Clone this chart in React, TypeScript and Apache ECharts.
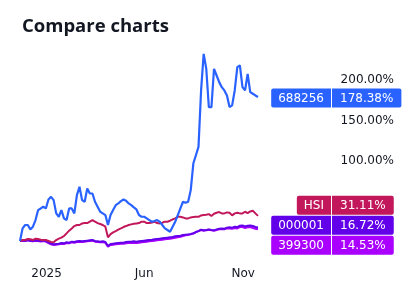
import React, { useEffect, useRef } from "react";
import * as echarts from "echarts";

const seriesNames = ["688256", "HSI", "000001", "399300"];
const seriesColors = ["#2962FF", "#C2185B", "#6200EA", "#AA00FF"];

// percent change since start, sampled every 4 calendar days from 2024-11-21
const s688256 = [
  0, 15.6, 19.8, 19.8, 14.4, 17.7, 25.9, 38.3, 40.3, 42.4,
  40.3, 51.4, 54.7, 50.6, 34.2, 30.0, 38.3, 28.0, 25.9, 40.3,
  40.3, 34.2, 56.8, 67.1, 50.6, 48.6, 65.0, 58.8, 58.8, 48.6,
  42.4, 36.2, 34.2, 32.1, 19.8, 32.1, 38.3, 44.4, 46.5, 49.4,
  51.4, 49.8, 46.5, 44.4, 41.6, 39.1, 32.1, 30.0, 30.0, 28.0,
  25.9, 23.9, 24.7, 25.9, 23.9, 19.8, 15.6, 13.6, 11.5, 17.7,
  23.9, 32.1, 40.3, 48.6, 47.3, 48.6, 63.0, 95.9, 106.2, 116.5,
  186.4, 231.7, 213.2, 165.8, 165.8, 213.2, 204.9, 196.7, 190.5, 186.4,
  180.2, 165.8, 167.9, 186.4, 215.2, 217.3, 190.5, 186.4, 207.0, 184.4,
  182.3, 180.2, 178.38,
];
const sHSI = [
  0, 1.2, 1.2, 2.5, 2.1, 1.2, 2.9, 2.5, 1.6, 1.2,
  1.2, 0, -1.2, -1.6, 1.2, 2.9, 4.1, 6.2, 9.5, 12.8,
  15.6, 18.5, 19.8, 19.8, 21.8, 22.2, 22.2, 23.9, 25.9, 23.9,
  22.2, 21.0, 19.8, 17.7, 4.5, 8.6, 10.7, 12.3, 14.0, 15.6,
  17.3, 18.5, 19.8, 20.6, 21.4, 21.8, 22.2, 23.9, 23.9, 22.2,
  22.2, 23.0, 23.9, 22.2, 21.8, 22.6, 23.9, 23.9, 25.1, 26.7,
  28.0, 30.0, 30.0, 29.2, 28.0, 28.0, 29.2, 29.6, 30.0, 30.0,
  31.7, 32.1, 32.5, 33.3, 30.9, 33.7, 35.0, 35.8, 34.2, 34.2,
  35.4, 35.0, 31.7, 34.2, 35.0, 34.2, 34.2, 36.2, 34.6, 36.6,
  37.4, 34.2, 31.11,
];
const s000001 = [
  0, 0.8, 0.4, 1.2, 0.4, 0, 0.8, 0.4, 0, 0.8,
  0, -1.6, -3.3, -4.1, -3.7, -3.3, -2.5, -2.9, -1.6, -2.1,
  -0.8, -1.2, -0.4, 0, -0.4, 0, 0.4, 0.8, 1.2, 0,
  -0.4, -0.8, -0.4, -1.2, -6.2, -3.7, -3.3, -2.9, -2.5, -2.1,
  -2.1, -1.2, -0.8, -0.8, -0.4, -0.8, -0.4, 0, 0.4, 0.8,
  1.2, 1.6, 2.1, 2.5, 2.9, 3.3, 3.7, 4.1, 4.5, 4.9,
  5.8, 6.2, 6.6, 7.4, 7.8, 8.2, 8.6, 9.5, 11.1, 12.3,
  14.0, 13.2, 13.6, 14.4, 13.6, 13.2, 14.4, 15.2, 15.6, 15.2,
  16.5, 16.9, 16.5, 17.7, 17.3, 18.9, 19.3, 18.1, 18.9, 19.3,
  18.5, 17.3, 16.72,
];
const s399300 = [
  0, 0.4, 0, 0.8, 0, -0.4, 0.4, 0, -0.8, 0,
  -0.8, -2.5, -4.1, -4.9, -4.5, -4.1, -3.3, -3.7, -2.5, -2.9,
  -1.6, -2.1, -1.2, -0.8, -1.2, -0.8, -0.4, 0, 0.4, -0.8,
  -1.2, -1.6, -1.2, -2.1, -7.0, -4.9, -4.5, -4.1, -3.7, -3.3,
  -3.3, -2.9, -2.5, -2.5, -2.1, -2.5, -2.1, -1.6, -1.2, -0.8,
  -0.4, 0, 0.4, 0.8, 1.2, 1.6, 2.1, 2.5, 2.9, 3.3,
  4.1, 4.5, 5.3, 6.2, 7.0, 7.4, 8.2, 9.1, 11.1, 12.3,
  13.6, 12.8, 13.2, 14.0, 13.2, 12.8, 13.6, 14.4, 14.8, 14.4,
  15.6, 15.6, 15.2, 16.1, 15.6, 17.3, 17.3, 16.1, 16.9, 17.3,
  16.1, 15.2, 14.53,
];

const START_DATE = [2024, 10, 21]; // y, month index, day
const STEP_DAYS = 4;

const xTickDates = [
  [2025, 0, 1],
  [2025, 5, 1],
  [2025, 10, 1],
];
const xTickLabels = ["2025", "Jun", "Nov"];
// 0.00% sits hidden behind the end labels in the reference
const yTicks = [50, 100, 150, 200];

const FONT = "DejaVu Sans";
const TEXT = "#131722";

export default function App() {
  const ref = useRef<HTMLDivElement>(null);

  useEffect(() => {
    if (!ref.current) return;
    const chart = echarts.init(ref.current, null, { renderer: "svg" });
    const allData = [s688256, sHSI, s000001, s399300];
    const dates = s688256.map((_, i) =>
      new Date(START_DATE[0], START_DATE[1], START_DATE[2] + i * STEP_DAYS).getTime()
    );
    const xTickTs = xTickDates.map((d) => new Date(d[0], d[1], d[2]).getTime());
    const last = dates.length - 1;

    const order = [3, 2, 1, 0];
    const series = order.map((k) => ({
      name: seriesNames[k],
      type: "line",
      showSymbol: false,
      symbol: "none",
      data: allData[k].map((v, i) => [dates[i], v]),
      lineStyle: { color: seriesColors[k], width: k === 0 ? 2.2 : 2 },
      itemStyle: { color: seriesColors[k] },
      z: 2 + (3 - k),
    }));

    chart.setOption({
      animation: false,
      title: {
        text: "Compare charts",
        left: 17,
        top: 10,
        textStyle: {
          fontFamily: "Open Sans",
          fontWeight: "bold",
          fontSize: 18.5,
          color: TEXT,
        },
      },
      grid: { left: 20, right: 162, top: 31, bottom: 32 },
      xAxis: {
        type: "value",
        min: dates[0],
        max: dates[last],
        axisLine: { show: false },
        axisTick: { show: false },
        splitLine: { show: false },
        axisLabel: {
          customValues: xTickTs,
          formatter: (v: number) => {
            const idx = xTickTs.indexOf(v);
            return idx >= 0 ? xTickLabels[idx] : "";
          },
          margin: 5,
          fontFamily: FONT,
          fontSize: 12,
          color: TEXT,
        },
      },
      yAxis: {
        type: "value",
        position: "right",
        min: -26,
        max: 260,
        axisLine: { show: false },
        axisTick: { show: false },
        splitLine: { show: false },
        axisLabel: {
          customValues: yTicks,
          formatter: (v: number) => v.toFixed(2) + "%",
          align: "right",
          margin: 136,
          fontFamily: FONT,
          fontSize: 12,
          color: TEXT,
        },
      },
      series,
    });

    const PITCH = 20;
    const items = allData.map((arr, k) => ({
      k,
      y: (chart.convertToPixel({ gridIndex: 0 }, [dates[last], arr[last]]) as number[])[1],
    }));
    items.sort((a, b) => a.y - b.y);
    let blocks = items.map((it) => ({ members: [it], center: it.y }));
    let changed = true;
    while (changed) {
      changed = false;
      for (let j = 1; j < blocks.length; j++) {
        const a = blocks[j - 1];
        const b = blocks[j];
        const aBottom = a.center + (a.members.length * PITCH) / 2;
        const bTop = b.center - (b.members.length * PITCH) / 2;
        if (aBottom > bTop) {
          const members = a.members.concat(b.members);
          const center = members.reduce((s, m) => s + m.y, 0) / members.length;
          blocks.splice(j - 1, 2, { members, center });
          changed = true;
          break;
        }
      }
    }
    const graphics: any[] = [];
    blocks.forEach((blk) => {
      const top = blk.center - (blk.members.length * PITCH) / 2;
      blk.members.forEach((m, idx) => {
        const cy = top + idx * PITCH + PITCH / 2 + 1;
        const arr = allData[m.k];
        const color = seriesColors[m.k];
        graphics.push({
          type: "text",
          x: 331,
          y: cy,
          z: 100,
          style: {
            text: seriesNames[m.k],
            fill: "#ffffff",
            font: `12px "${FONT}"`,
            align: "right",
            verticalAlign: "middle",
            backgroundColor: color,
            padding: [2, 7, 2, 7],
            lineHeight: 15,
            borderRadius: [2, 0, 0, 2],
          },
        });
        graphics.push({
          type: "text",
          x: 332,
          y: cy,
          z: 100,
          style: {
            text: arr[arr.length - 1].toFixed(2) + "%",
            fill: "#ffffff",
            font: `12px "${FONT}"`,
            align: "left",
            verticalAlign: "middle",
            backgroundColor: color,
            padding: [2, 8, 2, 8],
            lineHeight: 15,
            borderRadius: [0, 2, 2, 0],
          },
        });
      });
    });
    chart.setOption({ graphic: graphics });

    return () => chart.dispose();
  }, []);

  return (
    <div
      ref={ref}
      style={{ position: "fixed", left: 0, top: 0, width: 420, height: 294 }}
    />
  );
}
